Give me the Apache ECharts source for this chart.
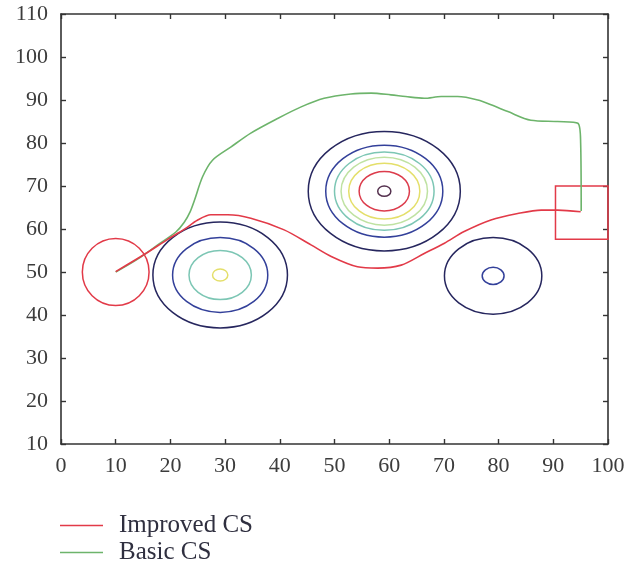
<!DOCTYPE html>
<html>
<head>
<meta charset="utf-8">
<style>
  html, body { margin: 0; padding: 0; background: #ffffff; }
  #chart { width: 628px; height: 583px; }
</style>
<script src="https://cdn.jsdelivr.net/npm/echarts@6/dist/echarts.min.js"></script>
</head>
<body>
<div id="chart"></div>
<script>
// ---- Data ----
const xTicks = [0, 10, 20, 30, 40, 50, 60, 70, 80, 90, 100];
const yTicks = [10, 20, 30, 40, 50, 60, 70, 80, 90, 100, 110];

const seriesNames = ['Improved CS', 'Basic CS'];

const improvedX = [10, 15.5, 19.5, 22.5, 25, 27.4, 30.5, 34.7, 40.8, 45.7, 49.4, 54.2, 57.9, 62.2, 66.4, 70.1, 73.7, 78.6, 83.5, 87.8, 90.8, 95];
const improvedY = [50.1, 54.3, 57.6, 59.9, 62.1, 63.3, 63.3, 62.5, 59.8, 56.3, 53.6, 51.2, 50.9, 51.6, 54.3, 56.7, 59.4, 62.1, 63.6, 64.4, 64.4, 64.0];

const basicX = [10, 14, 18, 21, 22.5, 23.6, 24.4, 25.9, 27.7, 31.1, 34.7, 39.6, 43.9, 48.1, 53, 56.7, 60.3, 63, 66.4, 69.5, 72.5, 76.2, 79, 81.7, 85.9, 90.8, 94.5, 95, 95.1];
const basicY = [50, 53, 56.6, 59.3, 61.5, 64, 66.7, 72.2, 76, 79.1, 82.3, 85.7, 88.4, 90.4, 91.4, 91.6, 91.2, 90.8, 90.4, 90.8, 90.8, 90, 88.7, 87.3, 85.3, 85, 84.6, 80, 64.2];

// Threat contour rings: centre x, centre y, radius (data units)
const ringCX = [29.1, 29.1, 29.1, 29.1, 59.1, 59.1, 59.1, 59.1, 59.1, 59.1, 59.1, 79, 79];
const ringCY = [49.3, 49.3, 49.3, 49.3, 68.8, 68.8, 68.8, 68.8, 68.8, 68.8, 68.8, 49.1, 49.1];
const ringR  = [12.3, 8.7, 5.7, 1.4, 13.9, 10.7, 9.1, 7.9, 6.5, 4.6, 1.2, 8.9, 2.0];
const ringLevel = [0, 1, 2, 4, 0, 1, 2, 3, 4, 5, 6, 0, 1];

// Start circle: centre x, centre y, radius x, radius y
const startCircle = [10, 50, 6.1, 7.8];
// Goal square: x0, y0, x1, y1
const goalBox = [90.4, 57.6, 100, 70];

// ---- Styles ----
const levelColors = ['#26265e', '#33409a', '#7cc6b4', '#bfe2a2', '#e4df6a', '#dc3c4c', '#54304e'];
const redColor = '#e23a48';
const greenColor = '#6db46b';
const serifFont = 'Liberation Serif';

const improvedData = improvedX.map((x, i) => [x, improvedY[i]]);
const basicData = basicX.map((x, i) => [x, basicY[i]]);
const ringData = ringCX.map((cx, i) => ({
  value: [cx, ringCY[i], ringR[i], ringR[i]],
  itemStyle: { color: levelColors[ringLevel[i]] }
}));

function ellipseItem(params, api) {
  const c = api.coord([api.value(0), api.value(1)]);
  const s = api.size([api.value(2), api.value(3)]);
  return {
    type: 'ellipse',
    shape: { cx: c[0], cy: c[1], rx: s[0], ry: s[1] },
    style: { fill: 'none', stroke: api.visual('color'), lineWidth: 1.5 }
  };
}

const axisLabelStyle = { fontFamily: serifFont, fontSize: 22, color: '#3c3c3c' };
const axisLineStyle = { show: true, onZero: false, lineStyle: { color: '#333333', width: 1.6 } };
const tickStyle = { show: true, inside: true, length: 5, lineStyle: { color: '#333333', width: 1.4 } };

const chart = echarts.init(document.getElementById('chart'), null, { renderer: 'canvas' });
chart.setOption({
  animation: false,
  backgroundColor: '#ffffff',
  grid: { left: 61, right: 20, top: 14, bottom: 139, containLabel: false },
  xAxis: [
    {
      type: 'value', min: xTicks[0], max: xTicks[xTicks.length - 1], interval: 10,
      position: 'bottom',
      axisLine: axisLineStyle, axisTick: tickStyle,
      axisLabel: Object.assign({ margin: 11 }, axisLabelStyle),
      splitLine: { show: false }
    },
    {
      type: 'value', min: xTicks[0], max: xTicks[xTicks.length - 1], interval: 10,
      position: 'top',
      axisLine: axisLineStyle, axisTick: tickStyle,
      axisLabel: { show: false }, splitLine: { show: false }
    }
  ],
  yAxis: [
    {
      type: 'value', min: yTicks[0], max: yTicks[yTicks.length - 1], interval: 10,
      position: 'left',
      axisLine: axisLineStyle, axisTick: tickStyle,
      axisLabel: Object.assign({ margin: 13 }, axisLabelStyle),
      splitLine: { show: false }
    },
    {
      type: 'value', min: yTicks[0], max: yTicks[yTicks.length - 1], interval: 10,
      position: 'right',
      axisLine: axisLineStyle, axisTick: tickStyle,
      axisLabel: { show: false }, splitLine: { show: false }
    }
  ],
  legend: {
    data: seriesNames,
    orient: 'vertical',
    left: 55,
    top: 508,
    icon: 'rect',
    itemWidth: 43,
    itemHeight: 1.6,
    itemGap: 2,
    textStyle: { fontFamily: serifFont, fontSize: 25, lineHeight: 25, color: '#2f2f3f', padding: [0, 0, 0, 11] }
  },
  series: [
    {
      name: 'rings', type: 'custom', renderItem: ellipseItem,
      data: ringData, silent: true, z: 2, clip: false
    },
    {
      name: 'start', type: 'custom', renderItem: ellipseItem,
      itemStyle: { color: redColor },
      data: [startCircle], silent: true, z: 3
    },
    {
      name: 'goal', type: 'custom',
      renderItem: function (params, api) {
        const p0 = api.coord([api.value(0), api.value(3)]);
        const p1 = api.coord([api.value(2), api.value(1)]);
        return {
          type: 'rect',
          shape: { x: p0[0], y: p0[1], width: p1[0] - p0[0], height: p1[1] - p0[1] },
          style: { fill: 'none', stroke: redColor, lineWidth: 1.5 }
        };
      },
      data: [goalBox], silent: true, z: 3
    },
    {
      name: seriesNames[1], type: 'line', data: basicData,
      showSymbol: false, symbol: 'none', smooth: 0.3,
      lineStyle: { color: greenColor, width: 1.6 }, itemStyle: { color: greenColor }, z: 4
    },
    {
      name: seriesNames[0], type: 'line', data: improvedData,
      showSymbol: false, symbol: 'none', smooth: 0.3,
      lineStyle: { color: redColor, width: 1.6 }, itemStyle: { color: redColor }, z: 5
    }
  ]
});
</script>
</body>
</html>
